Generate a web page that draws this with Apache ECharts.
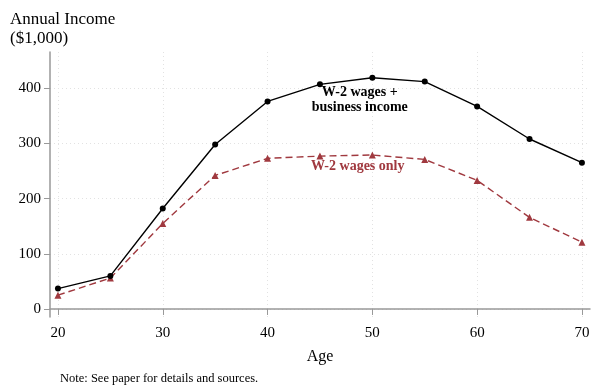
<!DOCTYPE html>
<html><head><meta charset="utf-8">
<script src="https://cdn.jsdelivr.net/npm/echarts@6/dist/echarts.min.js"></script>
<style>html,body{margin:0;padding:0;background:#fff}#c{width:594px;height:387px}</style>
</head><body><div id="c"></div>
<script>
const ages = [20,25,30,35,40,45,50,55,60,65,70];
const totalIncome = [37,60,182,298,376,407,419,412,367,308,265];
const wagesOnly = [25,56,155,242,273,277,279,271,233,166,121];
const yTicks = [0,100,200,300,400];
const xTicks = [20,30,40,50,60,70];
const FONT = '"Liberation Serif","Times New Roman",serif';
const RED = '#a0393f';

const chart = echarts.init(document.getElementById('c'), null, {renderer:'canvas'});
chart.setOption({
  animation:false,
  backgroundColor:'#fff',
  grid:{left:50,right:4,top:52,bottom:70,containLabel:false},
  xAxis:{type:'value',min:19.24,max:70.77,
    axisLine:{show:true,lineStyle:{color:'#999',width:1.5}},
    axisTick:{show:true,customValues:xTicks,length:6,lineStyle:{color:'#999'}},
    axisLabel:{customValues:xTicks,fontFamily:FONT,fontSize:15,color:'#000',margin:9},
    splitLine:{show:false},
    name:'Age',nameLocation:'middle',nameGap:32,nameTextStyle:{fontFamily:FONT,fontSize:16,color:'#000'}
  },
  yAxis:{type:'value',min:-14.5,max:465.6,
    axisLine:{show:true,lineStyle:{color:'#999',width:1.5}},
    axisTick:{show:true,customValues:yTicks,length:6,lineStyle:{color:'#999'}},
    axisLabel:{customValues:yTicks,fontFamily:FONT,fontSize:15,color:'#000',margin:9},
    splitLine:{show:false}
  },
  graphic:[
    {type:'text',left:10,top:10,style:{text:'Annual Income\n($1,000)',font:'17px '+FONT,fill:'#000',lineHeight:19}},
    {type:'text',left:60,top:372,style:{text:'Note: See paper for details and sources.',font:'12.5px '+FONT,fill:'#000'}}
  ],
  series:[
    {type:'line',data:[],silent:true,z:0,zlevel:0,
      markLine:{silent:true,symbol:'none',label:{show:false},z:0,
        lineStyle:{color:'#e2e2e2',type:[1,3],width:1},
        data:[].concat(
          yTicks.map(v=>({yAxis:v})),
          xTicks.map(v=>({xAxis:v}))
        )}
    },
    {type:'line',name:'total',data:ages.map((a,i)=>[a,totalIncome[i]]),z:5,
      symbol:'circle',symbolSize:6,itemStyle:{color:'#000',borderWidth:0},lineStyle:{color:'#000',width:1.4},
      markPoint:{symbol:'circle',symbolSize:0,
        label:{show:true,formatter:'W-2 wages +\nbusiness income',fontFamily:FONT,fontWeight:'bold',fontSize:14,color:'#000',lineHeight:15,align:'center',verticalAlign:'middle'},
        data:[{coord:[48.8,378]}]}
    },
    {type:'line',name:'wages',data:ages.map((a,i)=>[a,wagesOnly[i]]),z:4,
      symbol:'triangle',symbolSize:7,itemStyle:{color:RED,borderWidth:0},lineStyle:{color:RED,width:1.4,type:[7,4]},
      markPoint:{symbol:'circle',symbolSize:0,
        label:{show:true,formatter:'W-2 wages only',fontFamily:FONT,fontWeight:'bold',fontSize:14,color:RED,align:'center',verticalAlign:'middle'},
        data:[{coord:[48.6,258]}]}
    }
  ]
});
</script></body></html>
